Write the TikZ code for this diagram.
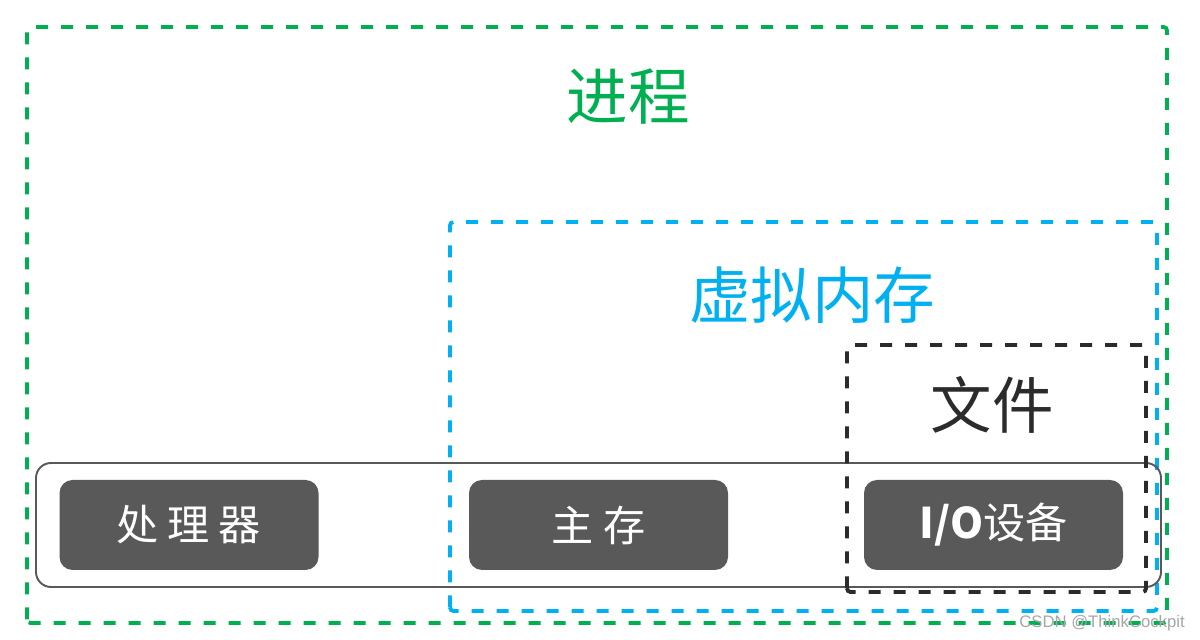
\documentclass[tikz,border=0pt]{standalone}
\usepackage{fontspec}
\newfontfamily\cjk{Noto Sans CJK SC}
\setmainfont{Liberation Sans}
\definecolor{procgreen}{HTML}{00B050}
\definecolor{vmblue}{HTML}{00B0F0}
\definecolor{filegray}{HTML}{2B2B2B}
\definecolor{devgray}{HTML}{595959}

\begin{document}
\begin{tikzpicture}[
    dashbox/.style={line width=2.2pt, dash pattern=on 0.24cm off 0.26cm, rounded corners=2pt},
    devbox/.style={fill=devgray, rounded corners=0.26cm, minimum width=5.18cm, minimum height=1.8cm,
      text=white, font=\cjk\fontsize{24}{27}\selectfont},
    title/.style={font=\cjk\fontsize{35}{40}\selectfont}
  ]
    \useasboundingbox (0,0) rectangle (24,12.8);

    \draw [dashbox, procgreen] (0.54,0.34) rectangle (23.34,12.26);
    \node [title, text=procgreen] (proc) at (12.56,10.86) {进程};

    \draw [dashbox, vmblue] (9.0,0.58) rectangle (23.14,8.36);
    \node [title, text=vmblue] (vm) at (16.24,6.9) {虚拟内存};

    \draw [line width=1.1pt, devgray, rounded corners=0.3cm] (0.72,1.06) rectangle (23.22,3.54);

    \node [devbox] (cpu) at (3.78,2.3) {处\hspace{5pt}理\hspace{5pt}器};
    \node [devbox] (mem) at (11.97,2.3) {主\hspace{6pt}存};
    \node [devbox] (io) at (19.87,2.3) {\textbf{I/O}设备};

    \draw [dashbox, filegray] (16.94,0.96) rectangle (22.92,5.9);
    \node [title, text=filegray] (file) at (19.84,4.7) {文件};

    \node [text=gray!70, font=\fontsize{9.5}{11}\selectfont] (mark) at (22.04,0.34) {CSDN @ThinkCockpit};
  \end{tikzpicture}
\end{document}
